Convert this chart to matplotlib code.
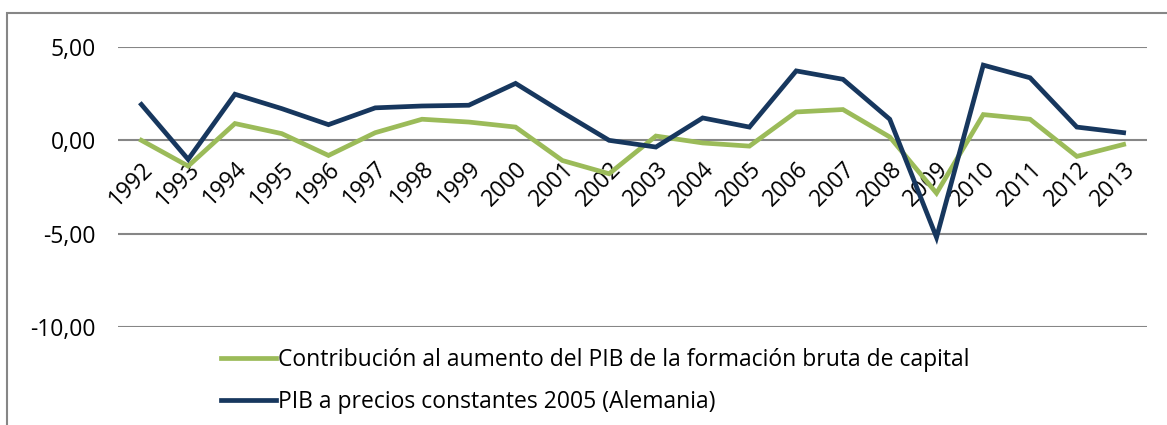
import matplotlib
matplotlib.use('Agg')
import matplotlib.pyplot as plt
from matplotlib.patches import Rectangle

# data
years = [str(y) for y in range(1992, 2014)]
contrib_fbk = [0.00, -1.38, 0.90, 0.36, -0.81, 0.41, 1.13, 0.98, 0.71, -1.08, -1.79,
               0.23, -0.14, -0.31, 1.52, 1.65, 0.18, -2.83, 1.38, 1.13, -0.86, -0.22]
pib_const = [1.92, -1.02, 2.47, 1.70, 0.84, 1.74, 1.84, 1.88, 3.05, 1.50, 0.00,
             -0.36, 1.20, 0.71, 3.72, 3.27, 1.13, -5.20, 4.03, 3.35, 0.71, 0.41]
yticks = [5, 0, -5, -10]
labels = ['Contribución al aumento del PIB de la formación bruta de capital',
          'PIB a precios constantes 2005 (Alemania)']

plt.rcParams['font.family'] = ['Open Sans', 'DejaVu Sans']
fs = 16.5

W, H = 1167, 425
fig = plt.figure(figsize=(W / 100, H / 100), dpi=100)
ax = fig.add_axes([118 / W, 1 - 327 / H, (1147 - 118) / W, (327 - 47) / H])

x = list(range(len(years)))
ax.plot(x, contrib_fbk, color='#9BBB59', lw=3.4, label=labels[0], solid_joinstyle='miter', zorder=3)
ax.plot(x, pib_const, color='#17375E', lw=3.4, label=labels[1], solid_joinstyle='miter', zorder=3)

ax.set_xlim(-0.5, len(years) - 0.5)
ax.set_ylim(-10, 5)
ax.set_yticks(yticks)
ax.set_yticklabels([f'{v:.2f}'.replace('.', ',') for v in yticks], fontsize=fs)
ax.yaxis.grid(True, color='#868686', lw=1.5)
ax.set_axisbelow(True)
for s in ['top', 'right', 'left']:
    ax.spines[s].set_visible(False)
ax.spines['bottom'].set_position(('data', 0))
ax.spines['bottom'].set_visible(False)
ax.tick_params(axis='both', length=0)
ax.tick_params(axis='y', pad=16)
ax.set_xticks(x)
ax.set_xticklabels(years, fontsize=fs, rotation=45, ha='right', va='top', rotation_mode='anchor')
ax.tick_params(axis='x', pad=12)

ax.legend(loc='upper left', bbox_to_anchor=(212 / W, 1 - 339 / H), bbox_transform=fig.transFigure,
          frameon=False, fontsize=fs, handlelength=2.4, handletextpad=0.1,
          labelspacing=0.8, borderaxespad=0)

# outer chart frame (cropped at right/bottom)
fig.patches.append(Rectangle((7 / W, -0.1), 1.2, 1 - 13 / H + 0.1, transform=fig.transFigure,
                             fill=False, edgecolor='#868686', lw=1.5))

fig.savefig('out.png', dpi=100)
